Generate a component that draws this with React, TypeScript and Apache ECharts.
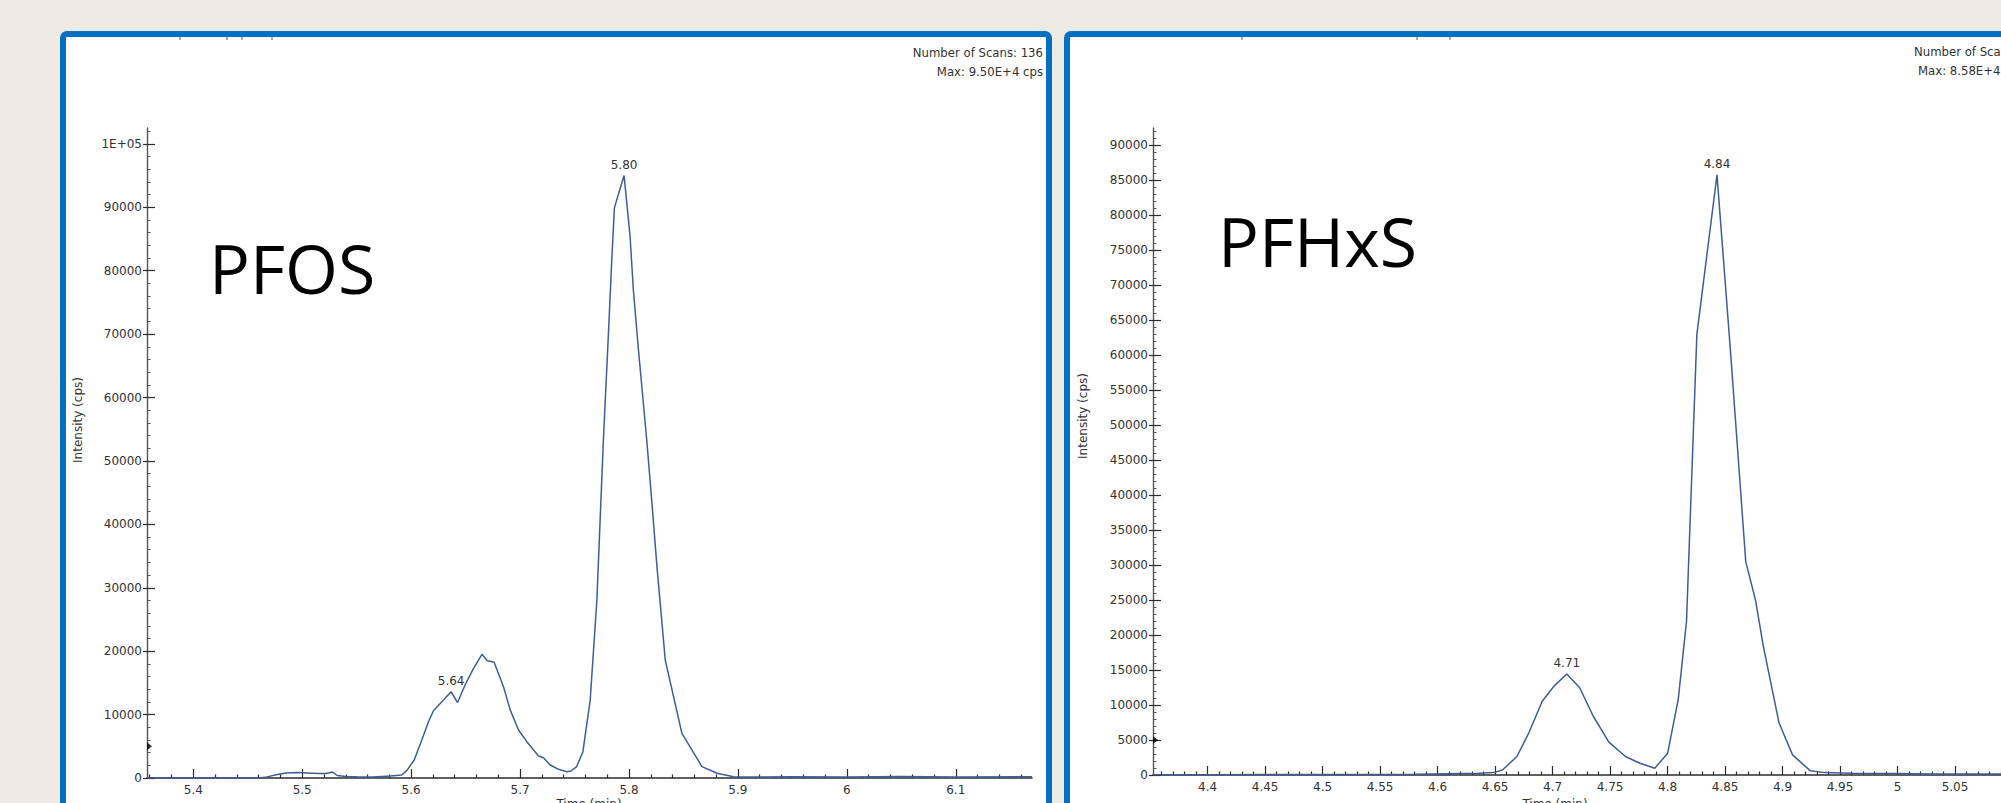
import React, { useEffect, useRef } from "react";
import * as echarts from "echarts";

// ---------- PFOS chromatogram (left panel) ----------
const pfosTime = [
  5.3575, 5.46, 5.466, 5.476, 5.485, 5.495, 5.505, 5.515, 5.522, 5.528, 5.532, 5.54, 5.55, 5.565,
  5.581, 5.5914, 5.596, 5.6028, 5.6098, 5.616, 5.6205, 5.628, 5.6367, 5.6426, 5.6496, 5.6573,
  5.665, 5.67, 5.6762, 5.6848, 5.691, 5.6986, 5.7062, 5.717, 5.7215, 5.7277, 5.7353, 5.743,
  5.7467, 5.752, 5.7577, 5.7644, 5.7705, 5.7765, 5.781, 5.7842, 5.7866, 5.7888, 5.7955, 5.801,
  5.804, 5.8087, 5.8163, 5.821, 5.8257, 5.8333, 5.8486, 5.867, 5.8808, 5.896, 5.91, 5.95, 6.0,
  6.05, 6.1, 6.17,
];
const pfosIntensity = [
  0, 0, 100, 500, 800, 850, 800, 700, 700, 950, 400, 250, 200, 150,
  300, 470, 1160, 2840, 6000, 8900, 10600, 12000, 13600, 11900, 14700, 17300,
  19500, 18500, 18250, 14400, 10700, 7570, 5730, 3470, 3200, 2050, 1370, 1000,
  1100, 1800, 4150, 12300, 28000, 53300, 69600, 81700, 89860, 91200, 95000, 85400,
  77000, 67500, 53300, 43500, 33300, 18600, 7050, 1800, 740, 210, 150, 200, 150,
  250, 150, 200,
];
const pfosPeakTimes = [5.7955, 5.6367];
const pfosPeakIntensities = [95000, 13600];
const pfosPeakLabels = ["5.80", "5.64"];
const pfosXTicks = [5.4, 5.5, 5.6, 5.7, 5.8, 5.9, 6, 6.1];
const pfosYTicks = [0, 10000, 20000, 30000, 40000, 50000, 60000, 70000, 80000, 90000, 100000];
const pfosYLabels = ["0", "10000", "20000", "30000", "40000", "50000", "60000", "70000", "80000", "90000", "1E+05"];

// ---------- PFHxS chromatogram (right panel) ----------
const pfhxsTime = [
  4.3525, 4.4, 4.5, 4.58, 4.62, 4.636, 4.6487, 4.6564, 4.669, 4.6793, 4.691, 4.7012, 4.7124,
  4.7236, 4.7354, 4.749, 4.7634, 4.776, 4.7889, 4.8001, 4.8093, 4.8165, 4.8255, 4.843, 4.855,
  4.868, 4.8765, 4.8832, 4.897, 4.9087, 4.924, 4.9367, 4.96, 5.0, 5.03, 5.09,
];
const pfhxsIntensity = [
  0, 50, 60, 100, 200, 240, 340, 720, 2640, 6000, 10550, 12700, 14440,
  12470, 8400, 4700, 2640, 1680, 960, 3120, 10800, 22000, 63000, 85800, 60000,
  30500, 25000, 18500, 7430, 2880, 620, 340, 250, 200, 150, 150,
];
const pfhxsPeakTimes = [4.843, 4.7124];
const pfhxsPeakIntensities = [85800, 14440];
const pfhxsPeakLabels = ["4.84", "4.71"];
const pfhxsXTicks = [4.4, 4.45, 4.5, 4.55, 4.6, 4.65, 4.7, 4.75, 4.8, 4.85, 4.9, 4.95, 5, 5.05];
const pfhxsYTicks = [
  0, 5000, 10000, 15000, 20000, 25000, 30000, 35000, 40000, 45000, 50000, 55000, 60000, 65000,
  70000, 75000, 80000, 85000, 90000,
];

const FONT = '"DejaVu Sans", sans-serif';
const INFO_FONT = '13px "DejaVu Sans Condensed", "DejaVu Sans", sans-serif';
const AXIS_COLOR = "#2b2b2b";
const TEXT_COLOR = "#333333";
const LINE_COLOR = "#3d5f98";
const PANEL_BLUE = "#0070c0";

function minorTicks(min: number, max: number, step: number, majors: number[]) {
  const out: number[] = [];
  const k0 = Math.ceil(min / step - 1e-9);
  for (let k = k0; k * step <= max + 1e-9; k++) {
    const v = Math.round(k * step * 1e6) / 1e6;
    if (!majors.some((m) => Math.abs(m - v) < step / 10)) out.push(v);
  }
  return out;
}

function pairs(xs: number[], ys: number[]) {
  return xs.map((x, i) => [x, ys[i]]);
}

function panelAxes(
  gridIndex: number,
  xMin: number,
  xMax: number,
  yMax: number,
  xTicks: number[],
  yTicks: number[],
  xMinor: number[],
  yMinor: number[],
  yFormatter: (v: number) => string
) {
  const base = { gridIndex, type: "value" as const, splitLine: { show: false } };
  const xAxes = [
    {
      ...base,
      min: xMin,
      max: xMax,
      position: "bottom",
      axisLine: { show: true, onZero: false, lineStyle: { color: AXIS_COLOR, width: 1.6 } },
      axisTick: { show: true, inside: true, length: 9, customValues: xTicks, lineStyle: { color: AXIS_COLOR, width: 1.2 } },
      axisLabel: {
        show: true,
        customValues: xTicks,
        margin: 6,
        color: TEXT_COLOR,
        fontFamily: FONT,
        fontSize: 12,
        formatter: (v: number) => String(v),
      },
    },
    {
      ...base,
      min: xMin,
      max: xMax,
      position: "bottom",
      axisLine: { show: false, onZero: false },
      axisTick: { show: true, inside: true, length: 3.5, customValues: xMinor, lineStyle: { color: AXIS_COLOR, width: 1.2 } },
      axisLabel: { show: false },
    },
  ];
  const yAxes = [
    {
      ...base,
      min: 0,
      max: yMax,
      position: "left",
      axisLine: { show: true, onZero: false, lineStyle: { color: "#555", width: 1.4 } },
      axisTick: { show: true, inside: true, length: 8, customValues: yTicks, lineStyle: { color: AXIS_COLOR, width: 1.2 } },
      axisLabel: {
        show: true,
        customValues: yTicks,
        margin: 5,
        color: TEXT_COLOR,
        fontFamily: FONT,
        fontSize: 12,
        formatter: yFormatter,
      },
    },
    {
      ...base,
      min: 0,
      max: yMax,
      position: "left",
      axisLine: { show: false, onZero: false },
      axisTick: { show: true, inside: false, length: 4, customValues: yTicks, lineStyle: { color: AXIS_COLOR, width: 1.2 } },
      axisLabel: { show: false },
    },
    {
      ...base,
      min: 0,
      max: yMax,
      position: "left",
      axisLine: { show: false, onZero: false },
      axisTick: { show: true, inside: true, length: 3.5, customValues: yMinor, lineStyle: { color: "#555", width: 1 } },
      axisLabel: { show: false },
    },
  ];
  return { xAxes, yAxes };
}

export default function App() {
  const ref = useRef<HTMLDivElement>(null);

  useEffect(() => {
    if (!ref.current) return;
    const chart = echarts.init(ref.current, null, { renderer: "svg" });

    const L = { xMin: 5.3575, xMax: 6.17, yMax: 102500 };
    const R = { xMin: 4.3525, xMax: 5.09, yMax: 92500 };

    const left = panelAxes(
      0, L.xMin, L.xMax, L.yMax, pfosXTicks, pfosYTicks,
      minorTicks(L.xMin, L.xMax, 0.02, pfosXTicks),
      minorTicks(0, L.yMax, 2000, pfosYTicks),
      (v: number) => pfosYLabels[pfosYTicks.indexOf(v)] ?? String(v)
    );
    const right = panelAxes(
      1, R.xMin, R.xMax, R.yMax, pfhxsXTicks, pfhxsYTicks,
      minorTicks(R.xMin, R.xMax, 0.01, pfhxsXTicks),
      minorTicks(0, R.yMax, 1000, pfhxsYTicks),
      (v: number) => String(v)
    );

    const peakMark = (times: number[], vals: number[], labels: string[]) => ({
      symbol: "circle",
      symbolSize: 1,
      itemStyle: { color: "rgba(0,0,0,0)" },
      label: {
        show: true,
        position: "top",
        distance: 4,
        color: TEXT_COLOR,
        fontFamily: FONT,
        fontSize: 12,
        formatter: (p: any) => p.name,
      },
      data: times.map((t, i) => ({ name: labels[i], coord: [t, vals[i]] })),
    });

    const lineSeries = (xi: number, yi: number, data: number[][], mark: any) => ({
      type: "line",
      xAxisIndex: xi,
      yAxisIndex: yi,
      data,
      symbol: "none",
      showSymbol: false,
      lineStyle: { color: LINE_COLOR, width: 1.5 },
      silent: true,
      markPoint: mark,
      z: 3,
    });

    const arrowSeries = (xi: number, yi: number, x: number) => ({
      type: "scatter",
      xAxisIndex: xi,
      yAxisIndex: yi,
      data: [[x, 5000]],
      symbol: "triangle",
      symbolRotate: -90,
      symbolSize: [8, 5],
      symbolOffset: [2.5, 0],
      itemStyle: { color: "#000" },
      clip: false,
      silent: true,
      z: 4,
    });

    const topMarks = [180, 227, 242, 272, 1242, 1417, 1450];

    chart.setOption({
      animation: false,
      backgroundColor: "#edeae3",
      grid: [
        { left: 147, top: 128, width: 885, height: 650 },
        { left: 1153, top: 128, width: 887, height: 647 },
      ],
      xAxis: [...left.xAxes, ...right.xAxes],
      yAxis: [...left.yAxes, ...right.yAxes],
      series: [
        lineSeries(0, 0, pairs(pfosTime, pfosIntensity), peakMark(pfosPeakTimes, pfosPeakIntensities, pfosPeakLabels)),
        arrowSeries(0, 0, L.xMin),
        lineSeries(2, 3, pairs(pfhxsTime, pfhxsIntensity), peakMark(pfhxsPeakTimes, pfhxsPeakIntensities, pfhxsPeakLabels)),
        arrowSeries(2, 3, R.xMin),
      ],
      graphic: [
        {
          type: "rect",
          z: -10,
          shape: { x: 63, y: 34, width: 986, height: 820, r: 4 },
          style: { fill: "#ffffff", stroke: PANEL_BLUE, lineWidth: 6 },
          silent: true,
        },
        {
          type: "rect",
          z: -10,
          shape: { x: 1067, y: 34, width: 1000, height: 820, r: 4 },
          style: { fill: "#ffffff", stroke: PANEL_BLUE, lineWidth: 6 },
          silent: true,
        },
        ...topMarks.map((x) => ({
          type: "line",
          z: -5,
          shape: { x1: x, y1: 37, x2: x, y2: 40 },
          style: { stroke: "#555", lineWidth: 1 },
          silent: true,
        })),
        {
          type: "text",
          x: 1043,
          y: 52,
          style: { text: "Number of Scans: 136", fill: TEXT_COLOR, font: INFO_FONT, align: "right", verticalAlign: "middle" },
        },
        {
          type: "text",
          x: 1043,
          y: 71,
          style: { text: "Max: 9.50E+4 cps", fill: TEXT_COLOR, font: INFO_FONT, align: "right", verticalAlign: "middle" },
        },
        {
          type: "text",
          x: 1914,
          y: 51,
          style: { text: "Number of Scans: 136", fill: TEXT_COLOR, font: INFO_FONT, align: "left", verticalAlign: "middle" },
        },
        {
          type: "text",
          x: 1918,
          y: 70,
          style: { text: "Max: 8.58E+4 cps", fill: TEXT_COLOR, font: INFO_FONT, align: "left", verticalAlign: "middle" },
        },
        {
          type: "text",
          x: 78,
          y: 420,
          rotation: Math.PI / 2,
          style: { text: "Intensity (cps)", fill: TEXT_COLOR, font: `12px ${FONT}`, align: "center", verticalAlign: "middle" },
        },
        {
          type: "text",
          x: 1083,
          y: 416,
          rotation: Math.PI / 2,
          style: { text: "Intensity (cps)", fill: TEXT_COLOR, font: `12px ${FONT}`, align: "center", verticalAlign: "middle" },
        },
        {
          type: "text",
          x: 589,
          y: 798,
          style: { text: "Time (min)", fill: TEXT_COLOR, font: `12px ${FONT}`, align: "center", verticalAlign: "top" },
        },
        {
          type: "text",
          x: 1555,
          y: 798,
          style: { text: "Time (min)", fill: TEXT_COLOR, font: `12px ${FONT}`, align: "center", verticalAlign: "top" },
        },
        {
          type: "text",
          x: 209,
          y: 267,
          style: { text: "PFOS", fill: "#000", font: `68px "Open Sans", sans-serif`, align: "left", verticalAlign: "middle" },
        },
        {
          type: "text",
          x: 1218,
          y: 240,
          style: { text: "PFHxS", fill: "#000", font: `68px "Open Sans", sans-serif`, align: "left", verticalAlign: "middle" },
        },
      ],
    });

    return () => chart.dispose();
  }, []);

  return (
    <div
      ref={ref}
      style={{ position: "fixed", left: 0, top: 0, width: 2001, height: 803 }}
    />
  );
}
